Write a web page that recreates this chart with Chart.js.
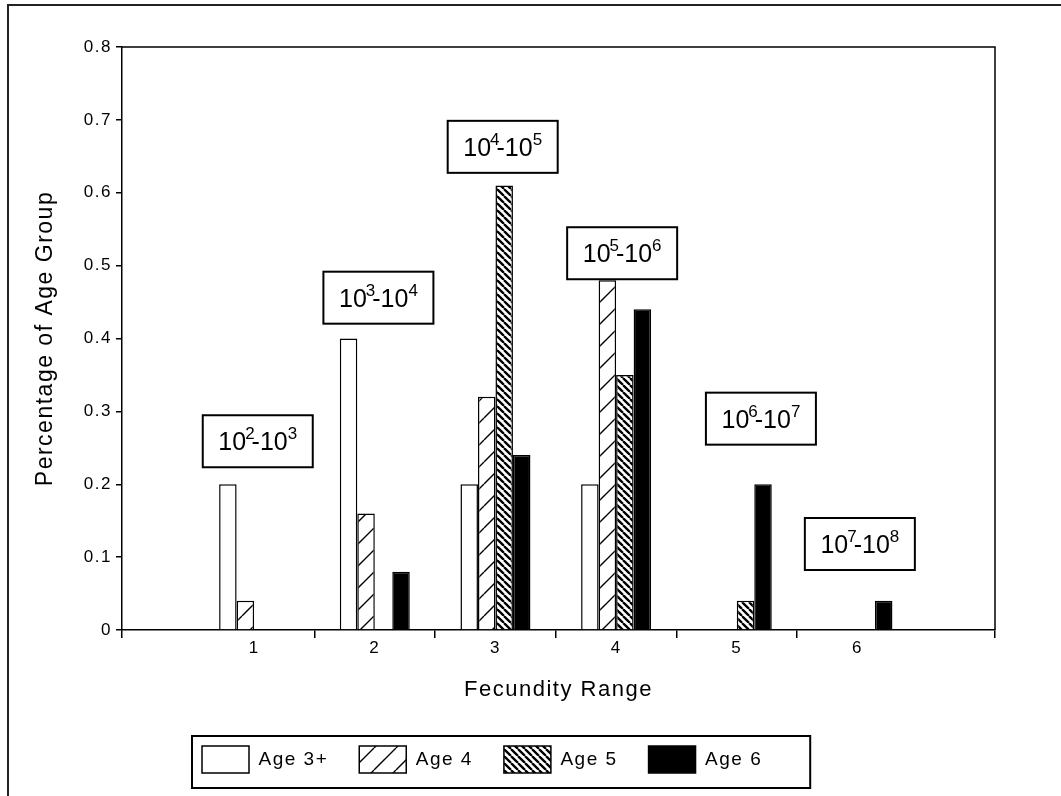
<!DOCTYPE html>
<html>
<head>
<meta charset="utf-8">
<script src="https://cdn.jsdelivr.net/npm/chart.js@4.4.1/dist/chart.umd.min.js"></script>
<style>
  html, body { margin: 0; padding: 0; background: #fff; }
  #wrap { position: relative; width: 1061px; height: 796px; }
  #frame { position: absolute; left: 7px; top: 4px; right: -4px; bottom: -4px;
           border-top: 2px solid #222; border-left: 2px solid #222; pointer-events: none; }
</style>
</head>
<body>
<div id="wrap">
  <canvas id="grafico" width="1061" height="796"></canvas>
  <div id="frame"></div>
</div>
<script>
// categorias (faixa de fecundidade) e valores por grupo de idade
const faixas = [1, 2, 3, 4, 5, 6];
const idade3mais = [0.20, 0.40, 0.20, 0.20, 0, 0];
const idade4 = [0.04, 0.16, 0.32, 0.48, 0, 0];
const idade5 = [0, 0, 0.61, 0.35, 0.04, 0];
const idade6 = [0, 0.08, 0.24, 0.44, 0.20, 0.04];
const yTicks = [0, 0.1, 0.2, 0.3, 0.4, 0.5, 0.6, 0.7, 0.8];

// rótulos das faixas (expoentes) e onde ficam as caixas, em unidades do gráfico
const expoentes = [['2', '3'], ['3', '4'], ['4', '5'], ['5', '6'], ['6', '7'], ['7', '8']];
const caixaX = [1.03, 2.03, 3.06, 4.05, 5.2, 6.02];
const caixaY = [0.259, 0.456, 0.663, 0.517, 0.29, 0.118];

const xMin = -0.095, xMax = 7.14;
const fonte = "'Liberation Sans', Arial, Helvetica, sans-serif";

// padrões de hachura
function hachura(tipo) {
  const c = document.createElement('canvas');
  const s = tipo === 'fina' ? 22 : 7;
  c.width = s; c.height = s;
  const g = c.getContext('2d');
  g.fillStyle = '#fff';
  g.fillRect(0, 0, s, s);
  g.strokeStyle = '#000';
  g.lineWidth = tipo === 'fina' ? 1.4 : 2.3;
  g.beginPath();
  for (let k = -1; k <= 1; k++) {
    if (tipo === 'fina') { // "/"
      g.moveTo(k * s, s); g.lineTo(k * s + s, 0);
    } else { // "\"
      g.moveTo(k * s, 0); g.lineTo(k * s + s, s);
    }
  }
  g.stroke();
  return g.createPattern(c, 'repeat');
}

const ctx = document.getElementById('grafico').getContext('2d');

// ticks do eixo x: pontas do eixo, divisões entre faixas e as próprias faixas
const divisoes = faixas.slice(1).map(f => f - 0.5);
const xTicks = [xMin, ...faixas, ...divisoes, xMax].sort((a, b) => a - b);

const pluginMoldura = {
  id: 'moldura',
  beforeUpdate(chart) {
    chart.ctx.letterSpacing = '1.5px';
  },
  afterLayout(chart) {
    // desloca a legenda para a esquerda como no original
    const lg = chart.legend;
    const natural = (lg.left + lg.options.labels.padding + lg.right - lg.lineWidths[0]) / 2;
    const d = 202 - natural;
    lg.left += d; lg.right += d;
  },
  afterDraw(chart) {
    const c = chart.ctx;
    const a = chart.chartArea;
    const x = chart.scales.x, y = chart.scales.y;
    c.save();
    c.strokeStyle = '#000';
    c.lineWidth = 1.5;
    c.beginPath();
    c.moveTo(a.left, a.top); c.lineTo(a.right, a.top); c.lineTo(a.right, a.bottom);
    c.stroke();

    // caixas com as faixas de fecundidade
    expoentes.forEach((e, i) => {
      const px = x.getPixelForValue(caixaX[i]);
      const py = y.getPixelForValue(caixaY[i]);
      const w = 110, h = 52;
      c.fillStyle = '#fff';
      c.fillRect(px - w / 2, py - h / 2, w, h);
      c.lineWidth = 2;
      c.strokeRect(px - w / 2, py - h / 2, w, h);
      const base = '25px ' + fonte, sup = '17px ' + fonte;
      c.letterSpacing = '0px';
      c.font = base; const w10 = c.measureText('10').width, wh = c.measureText('-10').width;
      c.font = sup; const ws1 = c.measureText(e[0]).width, ws2 = c.measureText(e[1]).width;
      let cx = px - (w10 + ws1 + wh + ws2 - 4) / 2;
      const by = py + 9;
      c.fillStyle = '#000';
      c.textBaseline = 'alphabetic';
      c.textAlign = 'left';
      c.font = base; c.fillText('10', cx, by); cx += w10;
      c.font = sup; c.fillText(e[0], cx - 1, by - 11); cx += ws1 - 4;
      c.font = base; c.fillText('-10', cx, by); cx += wh;
      c.font = sup; c.fillText(e[1], cx, by - 11);
    });

    // borda da legenda
    const hb = chart.legend.legendHitBoxes;
    if (hb && hb.length) {
      const l = hb[0].left - 10;
      const r = hb[hb.length - 1].left + hb[hb.length - 1].width + 48;
      const t = hb[0].top - 10;
      const b = hb[0].top + hb[0].height + 15;
      c.lineWidth = 2;
      c.strokeRect(l, t, r - l, b - t);
    }
    c.restore();
  }
};

new Chart(ctx, {
  type: 'bar',
  data: {
    labels: faixas,
    datasets: [
      { label: 'Age 3+', data: idade3mais, backgroundColor: '#fff' },
      { label: 'Age 4', data: idade4, backgroundColor: hachura('fina') },
      { label: 'Age 5', data: idade5, backgroundColor: hachura('densa') },
      { label: 'Age 6', data: idade6, backgroundColor: '#000' }
    ].map(ds => Object.assign(ds, {
      borderColor: '#000',
      borderWidth: 1.5,
      // o intervalo mínimo medido inclui os ticks de meia unidade
      categoryPercentage: 1.16,
      barPercentage: 1
    }))
  },
  options: {
    responsive: false,
    animation: false,
    devicePixelRatio: 1,
    layout: { padding: { left: 0, right: 66, top: 47, bottom: 13 } },
    plugins: {
      tooltip: { enabled: false },
      legend: {
        position: 'bottom',
        labels: {
          boxWidth: 47,
          boxHeight: 27,
          padding: 31,
          color: '#000',
          font: { family: fonte, size: 19 }
        }
      }
    },
    scales: {
      x: {
        type: 'linear',
        offset: false,
        min: xMin,
        max: xMax,
        afterBuildTicks: s => { s.ticks = xTicks.map(v => ({ value: v })); },
        afterFit: s => { s.height = 85; },
        grid: {
          offset: false,
          drawOnChartArea: false,
          tickLength: 8,
          lineWidth: 1.5,
          color: c => (c.tick && Number.isInteger(c.tick.value)) ? 'rgba(0,0,0,0)' : '#000'
        },
        border: { color: '#000', width: 1.5 },
        ticks: {
          autoSkip: false,
          maxRotation: 0,
          padding: 0,
          color: '#000',
          font: { family: fonte, size: 17 },
          callback: v => (Number.isInteger(v) && faixas.includes(v)) ? String(v) : ''
        },
        title: {
          display: true,
          text: 'Fecundity Range',
          color: '#000',
          font: { family: fonte, size: 22 },
          padding: { top: 0, bottom: 12 }
        }
      },
      y: {
        min: 0,
        max: 0.8,
        afterBuildTicks: s => { s.ticks = yTicks.map(v => ({ value: v })); },
        afterFit: s => { s.width = 122; },
        grid: { drawOnChartArea: false, tickLength: 6, lineWidth: 1.5, color: '#000' },
        border: { color: '#000', width: 1.5 },
        ticks: {
          padding: 4,
          color: '#000',
          font: { family: fonte, size: 17 },
          callback: v => String(Math.round(v * 10) / 10)
        },
        title: {
          display: true,
          text: 'Percentage of Age Group',
          color: '#000',
          font: { family: fonte, size: 23 },
          padding: { top: 32, bottom: 0 }
        }
      }
    }
  },
  plugins: [pluginMoldura]
});
</script>
</body>
</html>
